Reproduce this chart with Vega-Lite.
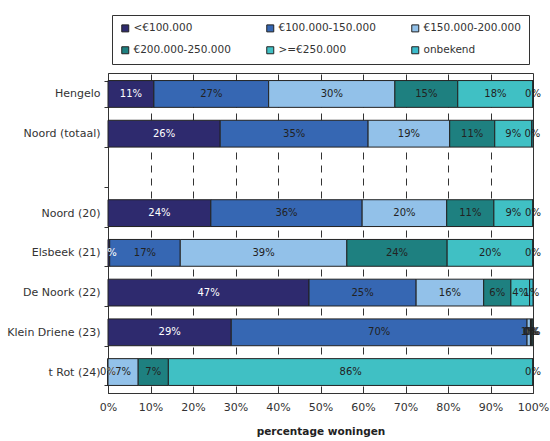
{
  "$schema": "https://vega.github.io/schema/vega-lite/v6.json",
  "width": 425,
  "height": 320,
  "autosize": {"type": "none"},
  "padding": {"left": 108, "top": 73, "right": 17, "bottom": 48},
  "background": "white",
  "config": {
    "view": {"stroke": "#333", "strokeWidth": 1},
    "font": "DejaVu Sans"
  },
  "data": {
    "values": [
      {"area": "Hengelo", "cat": "<€100.000", "k": 0, "v": 0.108},
      {"area": "Hengelo", "cat": "€100.000-150.000", "k": 1, "v": 0.270},
      {"area": "Hengelo", "cat": "€150.000-200.000", "k": 2, "v": 0.297},
      {"area": "Hengelo", "cat": "€200.000-250.000", "k": 3, "v": 0.148},
      {"area": "Hengelo", "cat": ">=€250.000", "k": 4, "v": 0.177},
      {"area": "Hengelo", "cat": "onbekend", "k": 5, "v": 0.0},
      {"area": "Noord (totaal)", "cat": "<€100.000", "k": 0, "v": 0.264},
      {"area": "Noord (totaal)", "cat": "€100.000-150.000", "k": 1, "v": 0.348},
      {"area": "Noord (totaal)", "cat": "€150.000-200.000", "k": 2, "v": 0.192},
      {"area": "Noord (totaal)", "cat": "€200.000-250.000", "k": 3, "v": 0.106},
      {"area": "Noord (totaal)", "cat": ">=€250.000", "k": 4, "v": 0.087},
      {"area": "Noord (totaal)", "cat": "onbekend", "k": 5, "v": 0.003},
      {"area": "Noord (20)", "cat": "<€100.000", "k": 0, "v": 0.242},
      {"area": "Noord (20)", "cat": "€100.000-150.000", "k": 1, "v": 0.356},
      {"area": "Noord (20)", "cat": "€150.000-200.000", "k": 2, "v": 0.199},
      {"area": "Noord (20)", "cat": "€200.000-250.000", "k": 3, "v": 0.111},
      {"area": "Noord (20)", "cat": ">=€250.000", "k": 4, "v": 0.092},
      {"area": "Noord (20)", "cat": "onbekend", "k": 5, "v": 0.0},
      {"area": "Elsbeek (21)", "cat": "<€100.000", "k": 0, "v": 0.004},
      {"area": "Elsbeek (21)", "cat": "€100.000-150.000", "k": 1, "v": 0.166},
      {"area": "Elsbeek (21)", "cat": "€150.000-200.000", "k": 2, "v": 0.392},
      {"area": "Elsbeek (21)", "cat": "€200.000-250.000", "k": 3, "v": 0.236},
      {"area": "Elsbeek (21)", "cat": ">=€250.000", "k": 4, "v": 0.202},
      {"area": "Elsbeek (21)", "cat": "onbekend", "k": 5, "v": 0.0},
      {"area": "De Noork (22)", "cat": "<€100.000", "k": 0, "v": 0.473},
      {"area": "De Noork (22)", "cat": "€100.000-150.000", "k": 1, "v": 0.252},
      {"area": "De Noork (22)", "cat": "€150.000-200.000", "k": 2, "v": 0.159},
      {"area": "De Noork (22)", "cat": "€200.000-250.000", "k": 3, "v": 0.064},
      {"area": "De Noork (22)", "cat": ">=€250.000", "k": 4, "v": 0.044},
      {"area": "De Noork (22)", "cat": "onbekend", "k": 5, "v": 0.008},
      {"area": "Klein Driene (23)", "cat": "<€100.000", "k": 0, "v": 0.290},
      {"area": "Klein Driene (23)", "cat": "€100.000-150.000", "k": 1, "v": 0.696},
      {"area": "Klein Driene (23)", "cat": "€150.000-200.000", "k": 2, "v": 0.008},
      {"area": "Klein Driene (23)", "cat": "€200.000-250.000", "k": 3, "v": 0.002},
      {"area": "Klein Driene (23)", "cat": ">=€250.000", "k": 4, "v": 0.002},
      {"area": "Klein Driene (23)", "cat": "onbekend", "k": 5, "v": 0.002},
      {"area": "t Rot (24)", "cat": "<€100.000", "k": 0, "v": 0.0},
      {"area": "t Rot (24)", "cat": "€100.000-150.000", "k": 1, "v": 0.0},
      {"area": "t Rot (24)", "cat": "€150.000-200.000", "k": 2, "v": 0.071},
      {"area": "t Rot (24)", "cat": "€200.000-250.000", "k": 3, "v": 0.071},
      {"area": "t Rot (24)", "cat": ">=€250.000", "k": 4, "v": 0.858},
      {"area": "t Rot (24)", "cat": "onbekend", "k": 5, "v": 0.0}
    ]
  },
  "transform": [
    {"stack": "v", "groupby": ["area"], "sort": [{"field": "k", "order": "ascending"}], "as": ["x0", "x1"]},
    {"calculate": "(datum.x0 + datum.x1) / 2", "as": "mid"}
  ],
  "encoding": {
    "y": {
      "field": "area",
      "type": "nominal",
      "scale": {
        "domain": ["Hengelo", "Noord (totaal)", " ", "Noord (20)", "Elsbeek (21)", "De Noork (22)", "Klein Driene (23)", "t Rot (24)"],
        "paddingInner": 0.325,
        "paddingOuter": 0.19
      },
      "axis": {
        "title": null,
        "tickBand": "extent",
        "tickSize": 4,
        "tickColor": "#333",
        "domainColor": "#333",
        "labelFontSize": 11,
        "labelColor": "#333",
        "labelPadding": 4,
        "grid": false
      }
    }
  },
  "layer": [
    {
      "mark": {"type": "bar", "stroke": "#222", "strokeWidth": 1},
      "encoding": {
        "x": {
          "field": "x0",
          "type": "quantitative",
          "scale": {"domain": [0, 1], "nice": false},
          "axis": {
            "title": "percentage woningen",
            "titleFontSize": 10.5,
            "titleFontWeight": "bold",
            "titleColor": "#222",
            "titlePadding": 14,
            "format": ".0%",
            "values": [0, 0.1, 0.2, 0.3, 0.4, 0.5, 0.6, 0.7, 0.8, 0.9, 1],
            "labelFontSize": 11,
            "labelColor": "#333",
            "labelPadding": 8,
            "ticks": false,
            "domainColor": "#333",
            "grid": true,
            "gridColor": "#333",
            "gridOpacity": 1,
            "gridDash": [7, 6],
            "labelFlush": false
          }
        },
        "x2": {"field": "x1"},
        "color": {
          "field": "cat",
          "type": "nominal",
          "scale": {
            "domain": ["<€100.000", "€100.000-150.000", "€150.000-200.000", "€200.000-250.000", ">=€250.000", "onbekend"],
            "range": ["#2e2a6e", "#3667b3", "#92c1e9", "#1e8080", "#40c0c4", "#3cbccc"]
          },
          "legend": {
            "title": null,
            "orient": "none",
            "legendX": 4,
            "legendY": -58,
            "direction": "horizontal",
            "columns": 3,
            "columnPadding": 33,
            "rowPadding": 10,
            "padding": 8,
            "strokeColor": "#333",
            "symbolType": "square",
            "symbolSize": 49,
            "symbolStrokeColor": "#222",
            "symbolStrokeWidth": 1,
            "symbolOpacity": 1,
            "labelFontSize": 10.5,
            "labelColor": "#333",
            "labelOffset": 3,
            "gridAlign": "all"
          }
        }
      }
    },
    {
      "mark": {"type": "text", "fontSize": 10, "align": "center", "baseline": "middle"},
      "encoding": {
        "x": {"field": "mid", "type": "quantitative"},
        "text": {"field": "v", "type": "quantitative", "format": ".0%"},
        "color": {
          "condition": {"test": "datum.k == 0", "value": "#ffffff"},
          "value": "#222222"
        }
      }
    }
  ]
}
